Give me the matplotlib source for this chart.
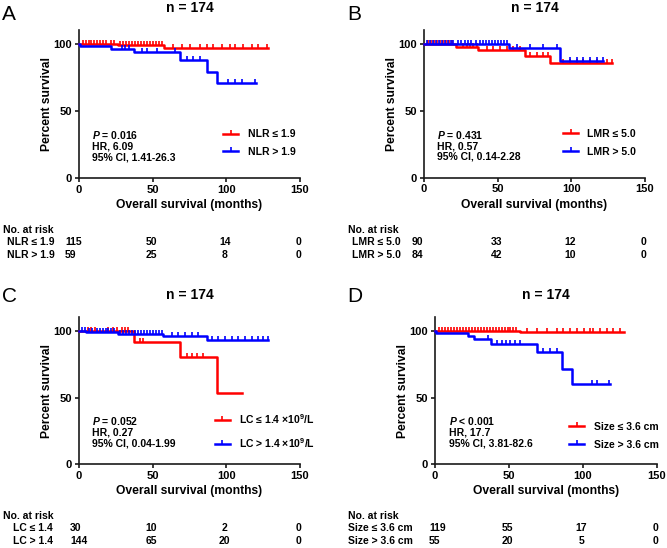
#!/usr/bin/env python3
"""Kaplan-Meier overall survival curves, four panels (NLR, LMR, LC, tumour size)."""

import numpy as np
import matplotlib
matplotlib.use("Agg")
import matplotlib.pyplot as plt
from matplotlib.lines import Line2D
from matplotlib.transforms import blended_transform_factory

plt.rcParams["font.family"] = ["Liberation Sans", "DejaVu Sans"]
plt.rcParams["font.weight"] = "bold"
plt.rcParams["mathtext.fontset"] = "custom"
plt.rcParams["mathtext.rm"] = "Liberation Sans:bold"
plt.rcParams["mathtext.it"] = "Liberation Sans:italic:bold"
plt.rcParams["mathtext.bf"] = "Liberation Sans:bold"

W, H = 667, 548
RED = "#ff0000"
BLUE = "#0000ff"
AXIS_COLOR = "#1a1a1a"

# -----------------------------
# Data
# -----------------------------
RISK_TIMES = [0, 50, 100, 150]

# Panel A: NLR
A_LABELS = ["NLR ≤ 1.9", "NLR > 1.9"]
A_RED_EVENTS = [26.7, 57.7]
A_RED_SURV = [99.0, 96.8]
A_RED_END = 128
A_RED_CENSOR = [3, 5, 7, 8, 10, 12, 14, 16, 18, 22, 24, 28, 30, 32, 34, 36, 38, 40,
                42, 44, 46, 48, 50, 52, 54, 56, 64, 69.7, 75.4, 82, 86.7, 91, 96.9,
                102.5, 105.9, 111.5, 117.2, 121.7, 127.4]
A_BLUE_EVENTS = [1, 22, 37.5, 68.7, 87, 93.7]
A_BLUE_SURV = [98.3, 96.3, 93.8, 87.8, 79.5, 70.7]
A_BLUE_END = 120
A_BLUE_CENSOR = [29, 31, 33.6, 42.5, 46, 52.7, 65.2, 73, 77.6, 82, 101, 106, 110.5, 119.5]
A_RISK = [[115, 50, 14, 0], [59, 25, 8, 0]]
A_STATS = ["= 0.016", "HR, 6.09", "95% CI, 1.41-26.3"]

# Panel B: LMR
B_LABELS = ["LMR ≤ 5.0", "LMR > 5.0"]
B_RED_EVENTS = [21.7, 36.9, 68.6, 85.5]
B_RED_SURV = [98.0, 95.5, 91.2, 85.5]
B_RED_END = 127.4
B_RED_CENSOR = [3, 5, 7, 9, 11, 13, 15, 17, 19, 26.7, 29, 31.5, 33.5, 35.8, 42.5, 47,
                51.6, 56, 60.6, 65, 72, 76.5, 81, 84.4, 94.6, 99, 103.7, 108, 112.7,
                117.2, 124, 127.4]
B_BLUE_EVENTS = [57.7, 92.3]
B_BLUE_SURV = [96.8, 87.5]
B_BLUE_END = 121.7
B_BLUE_CENSOR = [2, 4, 6, 8, 10, 12, 14, 16, 18, 20, 23, 25, 28, 30, 32, 35, 38, 40, 42,
                 44, 46, 48, 50, 52, 54, 56, 63, 72, 81, 90, 99, 103.7, 108, 112.7,
                 117.2, 121.7]
B_RISK = [[90, 33, 12, 0], [84, 42, 10, 0]]
B_STATS = ["= 0.431", "HR, 0.57", "95% CI, 0.14-2.28"]

# Panel C: lymphocyte count
C_LABELS = ["LC ≤ 1.4 ×10$^{9}$/L", "LC > 1.4 ×10$^{9}$/L"]
C_TABLE_LABELS = ["LC ≤ 1.4", "LC > 1.4"]
C_RED_EVENTS = [37.5, 68.8, 93.7]
C_RED_SURV = [91.8, 80.1, 53.6]
C_RED_END = 110.4
C_RED_CENSOR = [6, 8, 11, 20, 23, 26, 29, 31, 33, 41.4, 43.7, 73, 76.5, 80, 84.4]
C_BLUE_EVENTS = [5, 26.7, 57.3, 86.7]
C_BLUE_SURV = [99.3, 97.9, 96.3, 93.0]
C_BLUE_END = 128.5
C_BLUE_CENSOR = [2, 4, 7, 9, 12, 14, 16, 18, 20, 22, 24, 28, 30, 32, 34, 36, 38, 40, 42,
                 44, 46, 48, 50, 52, 54, 56, 62.9, 67.4, 72, 76.5, 81, 90, 94.6, 99,
                 103.7, 108, 112.7, 117.2, 121.7, 125, 128.5]
C_RISK = [[30, 10, 2, 0], [144, 65, 20, 0]]
C_STATS = ["= 0.052", "HR, 0.27", "95% CI, 0.04-1.99"]

# Panel D: tumour size
D_LABELS = ["Size ≤ 3.6 cm", "Size > 3.6 cm"]
D_RED_EVENTS = [57.5]
D_RED_SURV = [98.8]
D_RED_END = 128
D_RED_CENSOR = [3, 5, 7, 9, 11, 13, 15, 17, 19, 21, 23, 25, 27, 29, 31, 33, 35, 37, 39,
                41, 43, 45, 47, 49, 51, 53, 55, 62, 68.8, 75.6, 82.3, 86.8, 91.4, 95.9,
                100.4, 104.9, 107, 111.6, 116, 120.6, 125.1]
D_BLUE_EVENTS = [1, 22.5, 26.6, 37.9, 69.2, 86.1, 92.9]
D_BLUE_SURV = [98.2, 96.3, 93.6, 90.1, 83.8, 71.6, 59.9]
D_BLUE_END = 118.4
D_BLUE_CENSOR = [36, 41.7, 45, 48, 51, 54, 57.5, 73.3, 77.8, 82.3, 106, 109.4, 117.3]
D_RISK = [[119, 55, 17, 0], [55, 20, 5, 0]]
D_STATS = ["< 0.001", "HR, 17.7", "95% CI, 3.81-82.6"]


# -----------------------------
# Helpers
# -----------------------------
def fx(px):
    return px / W


def fy(py):
    return 1 - py / H


def km_curve(events, surv, end):
    t = np.concatenate([[0], events, [end]])
    s = np.concatenate([[100], surv, [surv[-1]]])
    return t, s


def surv_at(events, surv, times):
    t = np.asarray(events)
    s = np.concatenate([[100], surv])
    idx = np.searchsorted(t, np.asarray(times), side="right")
    return s[idx]


def draw_panel(fig, cfg):
    left, top, right, bottom = cfg["box"]
    ax = fig.add_axes([fx(left), fy(bottom), fx(right - left), (bottom - top) / H])

    for color, (ev, sv, end, cens) in zip([RED, BLUE], cfg["curves"]):
        t, s = km_curve(ev, sv, end)
        ax.step(t, s, where="post", color=color, lw=1.8, clip_on=False, zorder=3)
        ax.plot(cens, surv_at(ev, sv, cens), ls="none", marker=2, ms=3,
                mew=1.2, color=color, clip_on=False, zorder=3)

    ax.set_xlim(0, 150)
    ax.set_ylim(0, 110.5)
    ax.set_xticks([0, 50, 100, 150])
    ax.set_yticks([0, 50, 100])
    for side in ["top", "right"]:
        ax.spines[side].set_visible(False)
    for side in ["left", "bottom"]:
        ax.spines[side].set_linewidth(1.2)
        ax.spines[side].set_color(AXIS_COLOR)
    ax.tick_params(direction="out", length=3, width=1.2, color=AXIS_COLOR,
                   labelsize=8, pad=2)
    for lab in ax.get_xticklabels() + ax.get_yticklabels():
        lab.set_fontweight("bold")
    ax.set_xlabel("Overall survival (months)", fontsize=8.7, fontweight="bold", labelpad=3)
    ax.set_ylabel("Percent survival", fontsize=8.7, fontweight="bold", labelpad=0)
    ax.set_title("n = 174", fontsize=10, fontweight="bold", pad=13)

    # stats block
    sx = cfg["stats_x"]
    ax.text(sx, 0.29, r"$\mathit{P}$ " + cfg["stats"][0], transform=ax.transAxes,
            fontsize=7.5, fontweight="bold", va="center")
    ax.text(sx, 0.213, cfg["stats"][1], transform=ax.transAxes,
            fontsize=7.5, fontweight="bold", va="center")
    ax.text(sx, 0.14, cfg["stats"][2], transform=ax.transAxes,
            fontsize=7.5, fontweight="bold", va="center")

    handles = [Line2D([], [], color=c, lw=1.8, marker=2, ms=3, mew=1.2) for c in [RED, BLUE]]
    ax.legend(handles, cfg["labels"], loc="center left", bbox_to_anchor=cfg["legend_at"],
              frameon=False, handlelength=1.45, handletextpad=0.9,
              labelspacing=cfg.get("legend_spacing", 0.75), borderpad=0,
              borderaxespad=0, prop={"weight": "bold", "size": 7.5})

    # panel letter
    fig.text(fx(cfg["letter_at"][0]), fy(cfg["letter_at"][1]), cfg["letter"],
             fontsize=15, fontweight="normal", va="center", ha="left")

    # number at risk table
    tx, ty = cfg["table_at"]
    fig.text(fx(tx), fy(ty), "No. at risk", fontsize=7.5, fontweight="bold", va="center")
    blend = blended_transform_factory(ax.transData, fig.transFigure)
    for i, (name, row) in enumerate(zip(cfg["table_labels"], cfg["risk"])):
        ry = fy(ty + 11.7 + 13.1 * i)
        fig.text(fx(cfg["table_label_x"]), ry, name, fontsize=7.5, fontweight="bold",
                 va="center")
        for j, (tm, n) in enumerate(zip(RISK_TIMES, row)):
            if j == 0:
                ax.text(cfg["first_col"], ry, str(n), transform=blend, fontsize=7.5,
                        fontweight="bold", va="center", ha="left")
            else:
                ax.text(tm - 1, ry, str(n), transform=blend, fontsize=7.5,
                        fontweight="bold", va="center", ha="center")
    return ax


def main():
    fig = plt.figure(figsize=(W / 100, H / 100), dpi=100)

    panels = [
        dict(box=(79, 30, 300, 178), letter="A", letter_at=(2, 14),
             curves=[(A_RED_EVENTS, A_RED_SURV, A_RED_END, A_RED_CENSOR),
                     (A_BLUE_EVENTS, A_BLUE_SURV, A_BLUE_END, A_BLUE_CENSOR)],
             labels=A_LABELS, table_labels=A_LABELS, risk=A_RISK, stats=A_STATS,
             stats_x=0.06, legend_at=(0.652, 0.236),
             table_at=(3, 230), table_label_x=7, first_col=-9.5),
        dict(box=(424, 30, 645, 177.5), letter="B", letter_at=(347, 14),
             curves=[(B_RED_EVENTS, B_RED_SURV, B_RED_END, B_RED_CENSOR),
                     (B_BLUE_EVENTS, B_BLUE_SURV, B_BLUE_END, B_BLUE_CENSOR)],
             labels=B_LABELS, table_labels=B_LABELS, risk=B_RISK, stats=B_STATS,
             stats_x=0.06, legend_at=(0.629, 0.235),
             table_at=(348, 230), table_label_x=351.7, first_col=-8.4),
        dict(box=(79, 316.7, 300, 464.3), letter="C", letter_at=(2, 297),
             curves=[(C_RED_EVENTS, C_RED_SURV, C_RED_END, C_RED_CENSOR),
                     (C_BLUE_EVENTS, C_BLUE_SURV, C_BLUE_END, C_BLUE_CENSOR)],
             labels=C_LABELS, table_labels=C_TABLE_LABELS, risk=C_RISK, stats=C_STATS,
             stats_x=0.06, legend_at=(0.615, 0.227), legend_spacing=1.0,
             table_at=(3, 516), table_label_x=13, first_col=-6.1),
        dict(box=(435, 316.7, 657, 464.3), letter="D", letter_at=(347, 297),
             curves=[(D_RED_EVENTS, D_RED_SURV, D_RED_END, D_RED_CENSOR),
                     (D_BLUE_EVENTS, D_BLUE_SURV, D_BLUE_END, D_BLUE_CENSOR)],
             labels=D_LABELS, table_labels=D_LABELS, risk=D_RISK, stats=D_STATS,
             stats_x=0.063, legend_at=(0.604, 0.193),
             table_at=(348, 516), table_label_x=348, first_col=-4),
    ]

    for cfg in panels:
        draw_panel(fig, cfg)

    fig.savefig("out.png", dpi=100)


if __name__ == "__main__":
    main()
